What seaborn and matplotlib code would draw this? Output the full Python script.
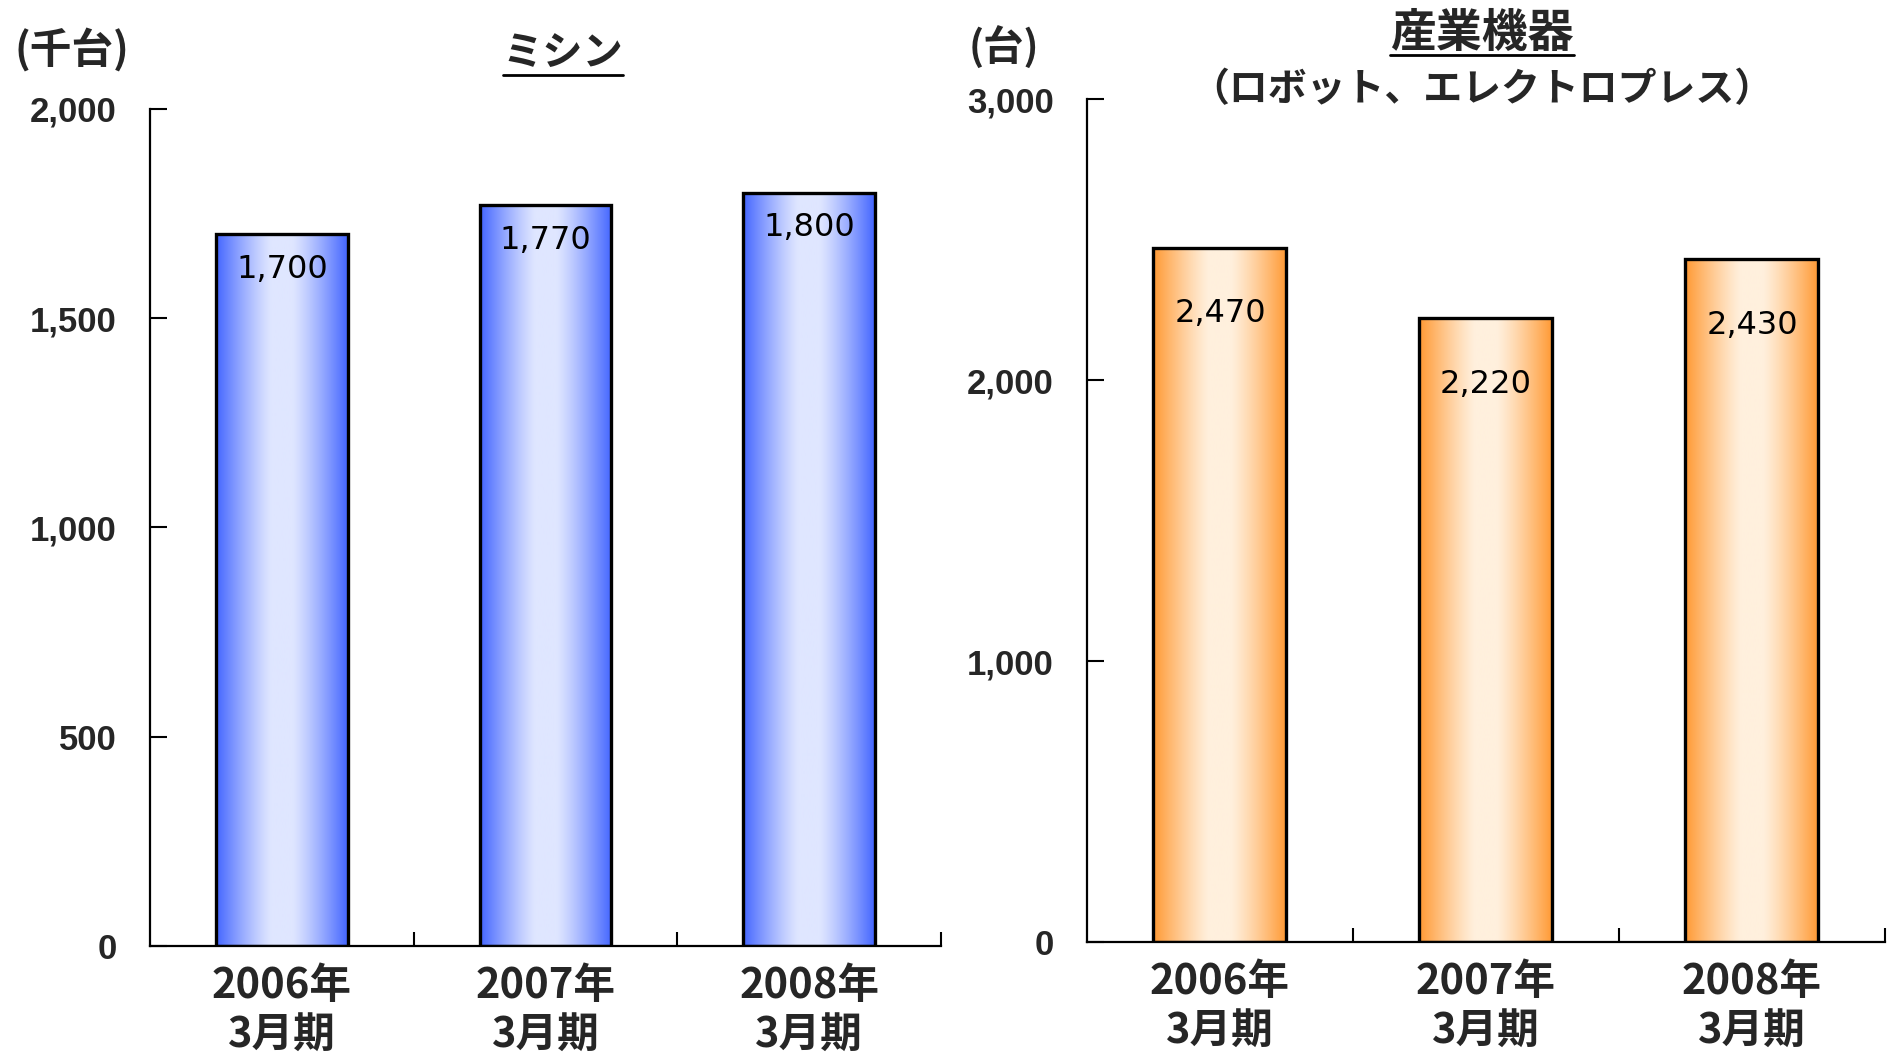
import numpy as np
import pandas as pd
import seaborn as sns
import matplotlib.pyplot as plt
from matplotlib import font_manager
from matplotlib.colors import LinearSegmentedColormap
from matplotlib.lines import Line2D
from matplotlib.ticker import FuncFormatter

# data
periods = ['2006年\n3月期', '2007年\n3月期', '2008年\n3月期']
sewing = [1700, 1770, 1800]        # 千台
industrial = [2470, 2220, 2430]    # 台
sewing_ticks = [0, 500, 1000, 1500, 2000]
industrial_ticks = [0, 1000, 2000, 3000]

sns.set_style('white')
plt.rcParams['font.family'] = ['Noto Sans CJK JP', 'DejaVu Sans']

installed = {f.name for f in font_manager.fontManager.ttflist}
num_font = 'Liberation Sans' if 'Liberation Sans' in installed else 'DejaVu Sans'

fig = plt.figure(figsize=(18.92, 10.57), dpi=100)
ax1 = fig.add_axes([0.0793, 0.105, 0.418, 0.792])
ax2 = fig.add_axes([0.5745, 0.1088, 0.4218, 0.7975])


def gradient_bars(ax, edge, center):
    # horizontal gradient: dark at both edges, light in the middle
    t = np.linspace(0, 1, 256)
    d = np.clip((np.abs(t - 0.5) - 0.08) / 0.42, 0, 1) ** 1.2
    grad = (1 - d).reshape(1, -1)
    cmap = LinearSegmentedColormap.from_list('g', [edge, center])
    for p in ax.patches:
        x0, w, h = p.get_x(), p.get_width(), p.get_height()
        im = ax.imshow(grad, extent=[x0, x0 + w, 0, h], aspect='auto',
                       cmap=cmap, vmin=0, vmax=1, zorder=2,
                       interpolation='bilinear')
        im.set_clip_path(p)
        p.set_facecolor('none')
        p.set_zorder(3)


def draw_panel(ax, values, ticks, edge, center, label_offset):
    df = pd.DataFrame({'period': periods, 'value': values})
    sns.barplot(data=df, x='period', y='value', ax=ax, color=edge,
                width=0.5, edgecolor='black', linewidth=2.4)
    gradient_bars(ax, edge, center)
    ax.set_xlim(-0.5, 2.5)
    ax.set_ylim(ticks[0], ticks[-1])
    ax.set_xlabel('')
    ax.set_ylabel('')
    sns.despine(ax=ax)
    for s in ['left', 'bottom']:
        ax.spines[s].set_color('black')
        ax.spines[s].set_linewidth(1.6)
    ax.set_yticks(ticks)
    ax.yaxis.set_major_formatter(FuncFormatter(lambda v, p: f'{int(v):,}'))
    ax.tick_params(axis='y', left=True, direction='in', length=12, width=1.5,
                   color='black', pad=24, labelsize=25)
    for lab in ax.get_yticklabels():
        lab.set_fontfamily(num_font)
        lab.set_fontweight('bold')
    ax.set_xticks([0.5, 1.5, 2.5], minor=True)
    ax.tick_params(axis='x', which='minor', bottom=True, direction='in',
                   length=10, width=1.5, color='black')
    ax.tick_params(axis='x', which='major', bottom=True, length=0, pad=14,
                   labelsize=30)
    for lab in ax.get_xticklabels():
        lab.set_fontweight('bold')
        lab.set_linespacing(1.2)
    for i, v in enumerate(values):
        ax.annotate(f'{v:,}', xy=(i, v), xytext=(0, -label_offset),
                    textcoords='offset pixels', ha='center', va='center',
                    fontsize=23, family='DejaVu Sans', color='black', zorder=5)


draw_panel(ax1, sewing, sewing_ticks, '#4466ff', '#dfe6ff', 35)
draw_panel(ax2, industrial, industrial_ticks, '#ff9933', '#fff0dd', 66)

# unit labels and titles
fig.text(14 / 1892, 1 - 50 / 1057, '(千台)', fontsize=30, fontweight='bold',
         ha='left', va='center')
fig.text(969 / 1892, 1 - 48 / 1057, '(台)', fontsize=29, fontweight='bold',
         ha='left', va='center')
t1 = fig.text(563 / 1892, 1 - 53 / 1057, 'ミシン', fontsize=29,
              fontweight='bold', ha='center', va='center')
t2 = fig.text(1482 / 1892, 1 - 34 / 1057, '産業機器', fontsize=33,
              fontweight='bold', ha='center', va='center')
fig.text(1482 / 1892, 1 - 90 / 1057, '（ロボット、エレクトロプレス）', fontsize=28,
         fontweight='bold', ha='center', va='center')

# underline the two titles
fig.canvas.draw()
renderer = fig.canvas.get_renderer()
for t, y_px in [(t1, 75), (t2, 55)]:
    bb = t.get_window_extent(renderer)
    W, H = fig.bbox.width, fig.bbox.height
    fig.add_artist(Line2D([bb.x0 / W, bb.x1 / W], [1 - y_px / 1057] * 2,
                          transform=fig.transFigure, color='black', lw=2))

fig.savefig('out.png', dpi=100)
